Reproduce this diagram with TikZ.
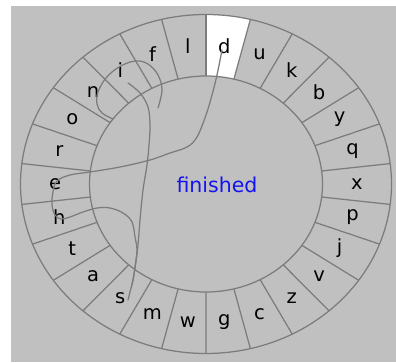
\documentclass[tikz,border=0pt]{standalone}
\usepackage{fontspec}
\setmainfont{DejaVu Sans}
\usepackage{xcolor}
\definecolor{panel}{HTML}{C0C0C0}
\definecolor{rim}{HTML}{7C7C7C}
\definecolor{word}{HTML}{1414F0}
\newcommand\cx{206}
\newcommand\cy{178}
\newcommand\orx{185.5}
\newcommand\ory{169.5}
\newcommand\irx{116.5}
\newcommand\iry{108}
\newcommand\lrx{151}
\newcommand\lry{138.75}
\newcommand\sect{13.846}

\begin{document}
\begin{tikzpicture}[x=1pt,y=1pt,
    ring/.style={draw=rim,line width=1.25pt},
    trace/.style={draw=rim,line width=1.25pt,line cap=round,line join=round},
    key/.style={inner sep=0pt,font=\fontsize{19.5}{19.5}\selectfont},
    status/.style={inner sep=0pt,text=word,font=\fontsize{20.5}{20.5}\selectfont}]
    \useasboundingbox (0,0) rectangle (396,362);
    \fill[panel] (11,0) rectangle (396,356);

    \begin{scope}[shift={(\cx,\cy)}]
      % selected sector
      \fill[white] ({90-\sect}:{\irx} and {\iry}) -- ({90-\sect}:{\orx} and {\ory})
        arc[start angle=90-\sect,end angle=90,x radius=\orx,y radius=\ory]
        -- (90:{\irx} and {\iry})
        arc[start angle=90,end angle=90-\sect,x radius=\irx,y radius=\iry] -- cycle;

      \draw[ring] (0,0) ellipse[x radius=\orx,y radius=\ory];
      \draw[ring] (0,0) ellipse[x radius=\irx,y radius=\iry];
      \foreach \k in {0,...,25}
        \draw[ring] ({90-\k*\sect}:{\irx} and {\iry}) -- ({90-\k*\sect}:{\orx} and {\ory});

      \foreach \l [count=\k from 0] in {d,u,k,b,y,q,x,p,j,v,z,c,g,w,m,s,a,t,h,e,r,o,n,i,f,l}
        \node[key] (key-\l) at ({90-(\k+0.5)*\sect}:{\lrx} and {\lry}) {\l};
    \end{scope}

    \node[status] (status) at (217,177) {finished};

    % gesture
    \draw[trace] plot[smooth,tension=0.6] coordinates {(222,312) (217,287) (212,267) (206,247)
      (197,225) (187,215) (170,209) (150,202) (120,195) (90,190) (70,187) (57,181)
      (53,170) (52,157) (55,147) (61,143) (70,145) (83,150) (97,154) (110,154)
      (123,149) (132,140) (135,125) (137,112) (135,95) (133,82) (130,70) (128,62)};
    \draw[trace] plot[smooth,tension=0.6] coordinates {(128,279) (140,269) (148,255) (150,237)
      (149,217) (147,197) (143,172) (140,142) (138,117) (135,94) (132,77)};
    \draw[trace] plot[smooth,tension=0.6] coordinates {(158,254) (162,272) (158,287) (148,298)
      (135,301) (119,295) (106,284) (98,270) (97,258) (102,249) (113,243)};
  \end{tikzpicture}
\end{document}
